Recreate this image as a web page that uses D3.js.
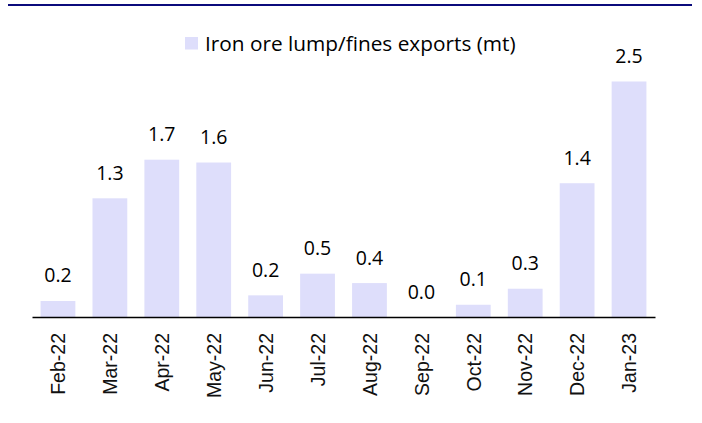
<!DOCTYPE html>
<html>
<head>
<meta charset="utf-8">
<script src="https://cdn.jsdelivr.net/npm/d3@7"></script>
<style>
  body { margin: 0; background: #fff; }
  .etiqueta { font-family: "Open Sans", sans-serif; font-size: 19.5px; fill: #000; }
  .leyenda { font-family: "Open Sans", sans-serif; font-size: 20.8px; fill: #000; }
</style>
</head>
<body>
<script>
// meses y valores de exportacion (mt)
var meses = ["Feb-22", "Mar-22", "Apr-22", "May-22", "Jun-22", "Jul-22",
             "Aug-22", "Sep-22", "Oct-22", "Nov-22", "Dec-22", "Jan-23"];
var exportaciones = [0.17, 1.26, 1.67, 1.64, 0.23, 0.46, 0.36, 0.0, 0.13, 0.30, 1.42, 2.5];
var nombreSerie = "Iron ore lump/fines exports (mt)";

var vis = {
    ancho: 702,
    alto: 423,
    izq: 32,
    der: 655,
    base: 317,
    techo: 81.5,
    colorBarra: "#dedefb"
};

var svg = d3.select("body")
            .append("svg")
            .attr("width", vis.ancho)
            .attr("height", vis.alto);

// linea azul de arriba
svg.append("line")
    .attr("x1", 8).attr("x2", 692)
    .attr("y1", 5).attr("y2", 5)
    .attr("stroke", "#0b0b7c")
    .attr("stroke-width", 2);

var x = d3.scaleBand()
    .domain(meses)
    .range([vis.izq, vis.der])
    .paddingInner(0.33)
    .paddingOuter(0.165);

var y = d3.scaleLinear()
    .domain([0, 2.5])
    .range([vis.base, vis.techo]);

// barras
svg.selectAll("rect.barra")
    .data(exportaciones)
    .enter()
    .append("rect")
    .attr("class", "barra")
    .attr("x", function(d, i) { return x(meses[i]); })
    .attr("y", function(d) { return y(d); })
    .attr("width", x.bandwidth())
    .attr("height", function(d) { return vis.base - y(d); })
    .attr("fill", vis.colorBarra);

// etiquetas de valor
svg.selectAll("text.etiqueta")
    .data(exportaciones)
    .enter()
    .append("text")
    .attr("class", "etiqueta")
    .attr("x", function(d, i) { return x(meses[i]) + x.bandwidth() / 2; })
    .attr("y", function(d) { return y(d) - 18.5; })
    .attr("text-anchor", "middle")
    .text(function(d) { return d.toFixed(1); });

// eje x
var eje = svg.append("g")
    .attr("transform", "translate(0," + vis.base + ")")
    .call(d3.axisBottom(x).tickSize(0).tickSizeOuter(0));

eje.select(".domain")
    .attr("stroke", "#000")
    .attr("stroke-width", 1.6);

eje.selectAll("text")
    .attr("font-family", "Liberation Sans, Arial, sans-serif")
    .attr("font-size", 19.5)
    .attr("fill", "#111")
    .attr("text-anchor", "end")
    .attr("dy", "0.37em")
    .attr("transform", "translate(0,16) rotate(-90)")
    .attr("x", 0)
    .attr("y", 0);

// leyenda
var leyenda = svg.append("g").attr("transform", "translate(185,37)");
leyenda.append("rect")
    .attr("width", 13).attr("height", 12.5)
    .attr("fill", vis.colorBarra);
leyenda.append("text")
    .attr("class", "leyenda")
    .attr("x", 20)
    .attr("y", 14)
    .text(nombreSerie);
</script>
</body>
</html>
